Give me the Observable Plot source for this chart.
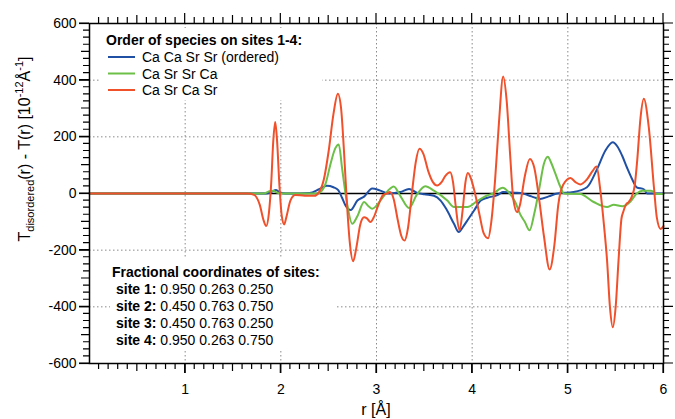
<!DOCTYPE html>
<html><head><meta charset="utf-8">
<script src="https://cdn.jsdelivr.net/npm/d3@7"></script>
<script src="https://cdn.jsdelivr.net/npm/@observablehq/plot@0.6"></script>
<style>
body{margin:0;background:#fff}
#chart{width:675px;height:419px;position:relative}
#chart svg.plotroot{font-family:'Liberation Sans', Arial, Helvetica, sans-serif;font-size:14px;color:#000;background:#fff}
#ticks{position:absolute;left:0;top:0;pointer-events:none;z-index:5}
</style>
</head><body><div id="chart"></div>
<script>
// ---- data ----
const seriesNames = ["Ca Ca Sr Sr (ordered)", "Ca Sr Sr Ca", "Ca Sr Ca Sr"];
const seriesColors = ["#2050a4", "#6cbf47", "#f0502a"];

const rOrdered = [0,1.85,1.9,1.95,2.0,2.1,2.3,2.4,2.48,2.55,2.6,2.64,2.676,2.73,2.8,2.87,2.955,3.04,3.13,3.25,3.34,3.42,3.5,3.6,3.67,3.73,3.81,3.86,3.91,3.96,4.02,4.09,4.16,4.27,4.32,4.45,4.53,4.62,4.71,4.8,4.89,5.06,5.2,5.307,5.39,5.47,5.52,5.567,5.62,5.67,5.72,5.794,5.83,6.0];
const tOrdered = [0,0,5,12,2,0,2,15,27,22,12,-15,-42,-58,-25,-11,18,10,0,5,16,3,-3,-8,-25,-55,-107,-136,-115,-90,-60,-25,-15,-5,5,3,0,-10,-19,-10,0,5,22,87,150,181,165,134,90,52,22,15,0,0];

const rSrSrCa = [0,1.82,1.88,1.92,1.96,2.0,2.38,2.43,2.467,2.52,2.57,2.606,2.64,2.676,2.70,2.746,2.8,2.87,2.92,2.955,3.04,3.12,3.18,3.25,3.34,3.42,3.51,3.6,3.74,3.81,3.95,4.06,4.15,4.22,4.32,4.38,4.45,4.5,4.55,4.6,4.65,4.7,4.75,4.79,4.83,4.87,4.92,4.96,5.13,5.27,5.41,5.48,5.57,5.65,5.72,5.78,5.87,5.93,6.0];
const tSrSrCa = [0,0,8,10,3,0,0,10,34,105,160,173,90,0,-50,-107,-80,-30,-46,-54,-25,10,25,-9,-51,-5,26,10,-25,-48,-48,-25,-8,0,20,5,-30,-72,-100,-130,-70,15,105,130,105,70,25,0,-2,-30,-48,-40,-45,-30,0,10,10,-2,-2];

const rSrCaSr = [0,1.65,1.72,1.78,1.82,1.847,1.875,1.9,1.92,1.941,1.96,1.985,2.01,2.035,2.06,2.1,2.15,2.25,2.35,2.4,2.45,2.5,2.55,2.596,2.63,2.66,2.69,2.72,2.756,2.79,2.83,2.87,2.9,2.937,2.97,3.02,3.07,3.11,3.14,3.18,3.22,3.26,3.293,3.33,3.37,3.41,3.449,3.49,3.54,3.59,3.634,3.68,3.72,3.77,3.8,3.83,3.868,3.9,3.93,3.955,3.99,4.03,4.08,4.12,4.167,4.2,4.24,4.28,4.324,4.36,4.4,4.43,4.47,4.5,4.55,4.603,4.65,4.7,4.75,4.81,4.86,4.9,4.95,5.028,5.08,5.13,5.2,5.26,5.3,5.34,5.38,5.41,5.44,5.47,5.5,5.53,5.56,5.578,5.61,5.637,5.67,5.7,5.725,5.76,5.794,5.846,5.9,5.93,5.97,6.0];
const tSrCaSr = [0,0,-5,-40,-95,-115,-70,40,180,252,190,30,-80,-109,-80,-25,-5,-8,-8,5,50,150,280,352,300,150,-30,-170,-239,-190,-110,-84,-88,-101,-85,-40,-5,0,5,-20,-90,-150,-166,-120,0,110,158,140,80,40,28,40,62,75,40,-50,-130,-60,40,72,50,0,-80,-140,-158,-100,50,250,413,330,120,-20,-66,-40,60,122,90,-20,-150,-268,-180,-40,30,55,40,32,50,80,95,10,-120,-236,-400,-472,-400,-236,-90,-66,-38,-30,-10,30,116,268,334,234,22,-84,-125,-115];

const xMajorTicks = [1,2,3,4,5,6];
const xMidTicks = [0.5,1.5,2.5,3.5,4.5,5.5];
const xMinorTicks = d3.range(1,60).map(i=>i/10).filter(v=>Math.abs(v*2-Math.round(v*2))>1e-6);
const yMajorTicks = [-600,-400,-200,0,200,400,600];
const yMidTicks = [-500,-300,-100,100,300,500];
const yMinorTicks = d3.range(-600,601,25).filter(v=>v%100!==0);
const xGrid = [1,2,3,4,5];
const yGrid = [-400,-200,200,400];

const legendTitle = "Order of species on sites 1-4:";
const coordTitle = "Fractional coordinates of sites:";
const siteLabels = ["site 1:","site 2:","site 3:","site 4:"];
const siteCoords = ["0.950 0.263 0.250","0.450 0.763 0.750","0.450 0.763 0.250","0.950 0.263 0.750"];

// ---- table ----
const raw = [[rOrdered,tOrdered],[rSrSrCa,tSrSrCa],[rSrCaSr,tSrCaSr]];
const table = raw.flatMap(([rs,ts],k)=>rs.map((r,i)=>({r, t: ts[i], s: seriesNames[k]})));

const FONT = "'Liberation Sans', Arial, Helvetica, sans-serif";

const plot = Plot.plot({
  width: 675, height: 419,
  marginLeft: 89, marginRight: 12, marginTop: 23, marginBottom: 56,
  className: "plotroot",
  x: {domain: [0,6]},
  y: {domain: [-600,600]},
  color: {domain: seriesNames, range: seriesColors},
  marks: [
    Plot.gridX(xGrid, {stroke:"#8a8a8a", strokeOpacity:1, strokeWidth:1, strokeDasharray:"1.5,2.5"}),
    Plot.gridY(yGrid, {stroke:"#8a8a8a", strokeOpacity:1, strokeWidth:1, strokeDasharray:"1.5,2.5"}),
    Plot.ruleY([0], {stroke:"black", strokeWidth:1.5}),
    Plot.line(table, {x:"r", y:"t", z:"s", stroke:"s", strokeWidth:2, curve:"monotone-x"}),
    Plot.axisX({anchor:"bottom", ticks:xMajorTicks, tickSize:10, tickPadding:11, tickFormat:d=>String(d), label:null, fontSize:14, strokeWidth:1.2}),
    Plot.axisY({anchor:"left", ticks:yMajorTicks, tickSize:10, tickPadding:3, tickFormat:d=>String(d), label:null, fontSize:14, strokeWidth:1.2}),
    Plot.frame({strokeWidth:1.5})
  ]
});
plot.classList.add("plotroot");
const chart = document.getElementById("chart");
chart.appendChild(plot);

const svg = d3.select(plot);
const xs = plot.scale("x"), ys = plot.scale("y");
const X = v => xs.apply(v), Y = v => ys.apply(v);
const x0 = X(0), x1 = X(6), yTop = Y(600), yBot = Y(-600);

// white boxes behind legend & annotation (cover grid)
svg.insert("rect", 'g[aria-label="line"]').attr("x",100).attr("y",28).attr("width",222).attr("height",72).attr("fill","white");
svg.insert("rect", 'g[aria-label="line"]').attr("x",110).attr("y",258).attr("width",227).attr("height",93).attr("fill","white");

// ticks on all four sides, drawn from the Plot scales into an overlay svg
let d = "";
const xTickSets = [[xMajorTicks,10],[xMidTicks,8],[xMinorTicks,6]];
const yTickSets = [[yMajorTicks,10],[yMidTicks,8],[yMinorTicks,6]];
xTickSets.forEach(([vals,len])=>vals.forEach(v=>{
  const px = X(v).toFixed(2);
  d += `M${px},${yBot}V${yBot+len}M${px},${yTop}V${yTop-len}`;
}));
yTickSets.forEach(([vals,len])=>vals.forEach(v=>{
  const py = Y(v).toFixed(2);
  d += `M${x0},${py}H${x0-len}M${x1},${py}H${x1+len}`;
}));
const ov = d3.select(chart).append("svg").attr("id","ticks").attr("width",675).attr("height",419).attr("viewBox","0 0 675 419");
ov.append("path").attr("d", d).attr("fill","none").attr("stroke","#000").attr("stroke-width",1.2);

const g = svg.append("g").attr("font-family", FONT).attr("font-size", 14).attr("fill","black").attr("text-anchor","start");
// legend
g.append("text").attr("x",106).attr("y",45).attr("font-weight","bold").text(legendTitle);
seriesNames.forEach((name,i)=>{
  const y = 57 + i*16.5;
  g.append("line").attr("x1",108).attr("x2",135).attr("y1",y).attr("y2",y).attr("stroke",seriesColors[i]).attr("stroke-width",2);
  g.append("text").attr("x",142).attr("y",y+5).text(name);
});
// coordinates annotation
g.append("text").attr("x",112).attr("y",277).attr("font-weight","bold").text(coordTitle);
siteLabels.forEach((lab,i)=>{
  const t = g.append("text").attr("x",116).attr("y",294+i*17);
  t.append("tspan").attr("font-weight","bold").text(lab);
  t.append("tspan").text(" " + siteCoords[i]);
});
// x label
g.append("text").attr("x",(x0+x1)/2).attr("y",415).attr("text-anchor","middle").attr("font-size",16).text("r [Å]");
// y label
const yl = g.append("text").attr("transform","translate(30,149) rotate(-90)").attr("text-anchor","middle").attr("font-size",16);
yl.append("tspan").text("T");
yl.append("tspan").attr("font-size",11).attr("dy",4).text("disordered");
yl.append("tspan").attr("dy",-4).text("(r) - T(r) [10");
yl.append("tspan").attr("font-size",11).attr("dy",-7).text("-12");
yl.append("tspan").attr("dy",7).text("Å");
yl.append("tspan").attr("font-size",11).attr("dy",-7).text("-1");
yl.append("tspan").attr("dy",7).text("]");
</script>
</body></html>
